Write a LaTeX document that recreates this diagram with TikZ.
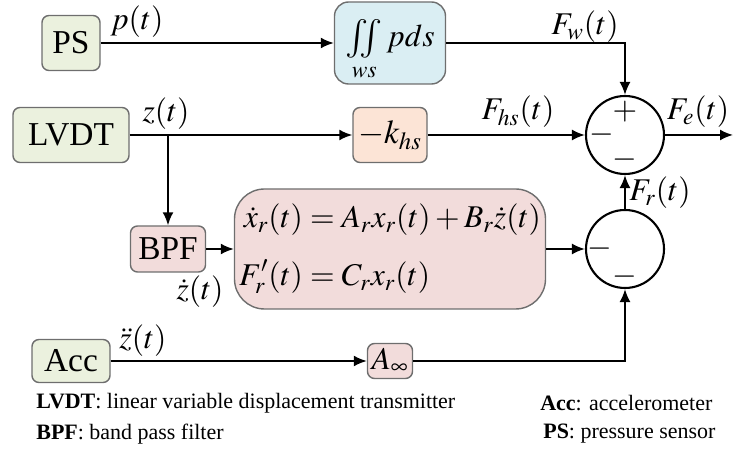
\documentclass[tikz,border=0pt]{standalone}
\usepackage{amsmath}
\usepackage{mathptmx}
\usepackage{fontspec}
\setmainfont{Liberation Serif}
\usetikzlibrary{arrows.meta,positioning}

\definecolor{sensgreen}{RGB}{235,241,222}
\definecolor{intblue}{RGB}{218,238,243}
\definecolor{gainpeach}{RGB}{252,228,214}
\definecolor{filtpink}{RGB}{242,220,219}
\definecolor{edgegray}{RGB}{110,110,110}

\newcommand{\bigiint}{\mathop{\vcenter{\hbox{\fontsize{22}{22}\selectfont$\iint$}}}\limits}

\begin{document}
\begin{tikzpicture}[
    box/.style={draw=edgegray, line width=0.8pt, rounded corners=4pt, align=center, inner sep=2pt, font=\fontsize{19}{22}\selectfont},
    sum/.style={draw, circle, line width=1.2pt, minimum size=1.56cm, inner sep=0pt},
    sig/.style={font=\fontsize{18}{21}\selectfont, inner sep=0pt},
    lab/.style={font=\fontsize{18}{21}\selectfont, inner sep=1pt},
    legend/.style={font=\fontsize{12.5}{14}\selectfont, inner sep=0pt},
    link/.style={-{Latex[length=2.6mm,width=2.2mm]}, line width=1.1pt}
]
\useasboundingbox (0,0) rectangle (14.66,8.98);

% sensors
\node[box, fill=sensgreen, minimum width=1.16cm, minimum height=1.1cm] (ps) at (1.42,8.12) {PS};
\node[box, fill=sensgreen, minimum width=2.32cm, minimum height=1.1cm] (lvdt) at (1.42,6.28) {LVDT};
\node[box, fill=sensgreen, minimum width=1.56cm, minimum height=0.86cm] (acc) at (1.42,1.76) {Acc};

% blocks
\node[box, fill=intblue, rounded corners=8pt, minimum width=2.22cm, minimum height=1.64cm] (integ) at (7.8,8.12) {};
\node[sig] (integtxt) at ([yshift=-0.14cm]integ.center) {$\bigiint_{ws} pds$};
\node[box, fill=gainpeach, minimum width=1.48cm, minimum height=1.1cm] (khs) at (7.8,6.28) {$-k_{hs}$};
\node[box, fill=filtpink, minimum width=1.5cm, minimum height=0.92cm] (bpf) at (3.36,4.0) {BPF};
\node[box, fill=filtpink, rounded corners=0.6cm, minimum width=6.22cm, minimum height=2.4cm, font=\fontsize{18}{21}\selectfont] (ss) at (7.8,4.0)
    {$\begin{aligned}\dot{x}_r(t) &= A_r x_r(t) + B_r \dot{z}(t)\\[8pt] F_r'(t) &= C_r x_r(t)\end{aligned}$};
\node[box, fill=filtpink, minimum width=0.9cm, minimum height=0.7cm, font=\fontsize{18}{21}\selectfont] (ainf) at (7.8,1.76) {$A_\infty$};

% summing junctions
\node[sum] (sum1) at (12.5,6.28) {};
\node[sig] (s1p) at ([yshift=0.47cm]sum1.center) {$+$};
\node[sig] (s1l) at ([xshift=-0.47cm]sum1.center) {$-$};
\node[sig] (s1b) at ([yshift=-0.5cm]sum1.center) {$-$};
\node[sum] (sum2) at (12.5,4.0) {};
\node[sig] (s2l) at ([xshift=-0.5cm]sum2.center) {$-$};
\node[sig] (s2b) at ([yshift=-0.56cm]sum2.center) {$-$};
\coordinate (fe) at (14.66,6.28);

% connectors
\draw[link] (ps.east) -- (ps.east -| integ.west);
\draw[link] (integ.east) -| (sum1.north);
\draw[link] (lvdt.east) -- (khs.west);
\draw[link] (khs.east) -- (sum1.west);
\draw[link] (lvdt.east -| bpf.north) -- (bpf.north);
\draw[link] (bpf.east) -- (ss.west);
\draw[link] (ss.east) -- (sum2.west);
\draw[link] (sum2.north) -- (sum1.south);
\draw[link] (sum1.east) -- (fe);
\draw[link] (acc.east) -- (ainf.west);
\draw[link] (ainf.east) -| (sum2.south);

% signal labels
\node[lab] (lp) at (2.74,8.54) {$p(t)$};
\node[lab] (lz) at (3.32,6.7) {$z(t)$};
\node[lab] (lzd) at (4.0,3.14) {$\dot{z}(t)$};
\node[lab] (lzdd) at (2.86,2.16) {$\ddot{z}(t)$};
\node[lab] (lfw) at (11.7,8.44) {$F_w(t)$};
\node[lab] (lfhs) at (10.36,6.74) {$F_{hs}(t)$};
\node[lab] (lfe) at (13.96,6.74) {$F_e(t)$};
\node[lab] (lfr) at (13.2,5.12) {$F_r(t)$};

% legend
\node[legend, anchor=west] (leg1) at (0.72,0.92) {\textbf{LVDT}: linear variable displacement transmitter};
\node[legend, anchor=west] (leg2) at (0.72,0.3) {\textbf{BPF}: band pass filter};
\node[legend, anchor=west] (leg3) at (10.8,0.92) {\textbf{Acc}: accelerometer};
\node[legend, anchor=west] (leg4) at (10.86,0.3) {\textbf{PS}: pressure sensor};
\end{tikzpicture}
\end{document}
